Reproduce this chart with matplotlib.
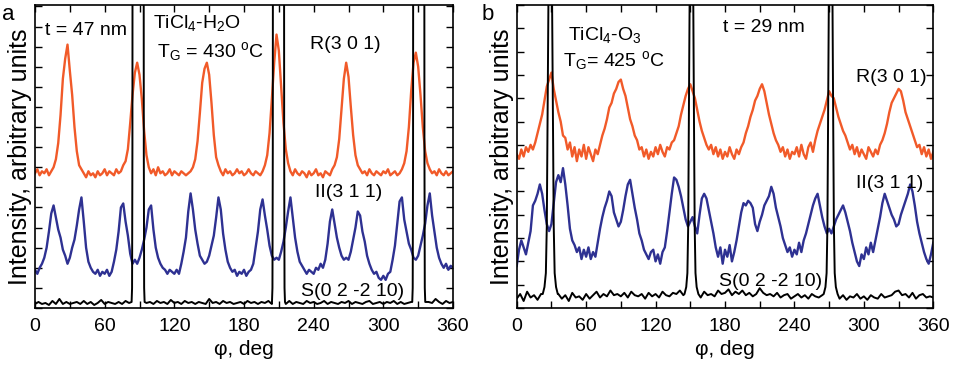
import numpy as np
import matplotlib
matplotlib.use("Agg")
import matplotlib.pyplot as plt
from matplotlib.ticker import MultipleLocator

plt.rcParams["font.family"] = ["Liberation Sans", "DejaVu Sans"]
plt.rcParams["mathtext.fontset"] = "custom"
plt.rcParams["mathtext.rm"] = "Liberation Sans"
plt.rcParams["mathtext.it"] = "Liberation Sans:italic"

ORANGE = "#f15a29"
BLUE = "#2e3192"

# phi grid for the orange / blue scans (2 deg step)
phi = np.arange(0, 361, 2)

# ---- panel a: TiCl4-H2O ----
r301_a = [
    6.7, 6.9, 6.6, 6.8, 6.7, 6.9, 6.6, 6.8, 7.0, 7.4,
    8.2, 9.6, 11.4, 12.4, 13.1, 11.8, 10.6, 9.0, 7.8, 7.1,
    6.9, 6.7, 6.5, 6.8, 6.6, 6.7, 6.5, 6.8, 6.6, 6.7,
    6.9, 6.6, 6.8, 6.7, 6.6, 6.9, 6.7, 6.8, 7.1, 7.3,
    7.9, 9.2, 10.6, 11.7, 12.2, 11.6, 10.4, 8.8, 7.6, 7.0,
    6.7, 6.9, 6.6, 7.0, 6.7, 6.8, 6.6, 6.7, 6.9, 6.6,
    6.8, 6.7, 6.6, 6.8, 6.7, 6.6, 6.7, 6.8, 7.0, 7.4,
    8.3, 9.7, 11.2, 11.9, 12.2, 11.6, 10.2, 8.6, 7.5, 7.1,
    6.8, 6.6, 6.9, 6.7, 6.8, 6.6, 6.7, 6.9, 6.7, 6.8,
    6.6, 6.7, 6.9, 6.7, 6.6, 6.8, 6.7, 6.6, 6.8, 7.1,
    7.6, 8.7, 10.4, 12.2, 13.6, 12.8, 11.0, 9.2, 7.9, 7.2,
    6.8, 6.6, 6.9, 6.7, 6.6, 6.8, 6.7, 6.5, 6.8, 6.6,
    6.7, 6.9, 6.6, 6.7, 6.5, 6.8, 6.7, 6.6, 6.9, 7.1,
    7.5, 8.4, 9.9, 11.4, 12.2, 11.5, 10.0, 8.6, 7.6, 7.1,
    6.9, 6.7, 6.8, 6.6, 6.9, 6.7, 6.6, 6.8, 6.7, 6.6,
    6.8, 6.7, 6.9, 6.6, 6.7, 6.8, 6.6, 6.7, 6.9, 7.2,
    7.8, 9.0, 10.8, 12.2, 12.7, 12.0, 10.6, 9.0, 7.8, 7.2,
    6.9, 6.7, 6.8, 6.6, 6.9, 6.7, 6.6, 6.8, 6.6, 6.7,
    6.8,
]
ii311_a = [
    1.9, 1.7, 2.0, 2.2, 2.5, 3.0, 3.8, 4.7, 5.1, 4.5,
    3.9, 3.5, 2.9, 2.6, 2.2, 2.5, 3.0, 3.4, 4.1, 4.9,
    5.5, 4.3, 3.0, 2.3, 2.0, 1.8, 1.7, 1.9, 1.6, 1.8,
    1.7, 1.9, 1.6, 1.8, 2.3, 2.9, 3.8, 5.0, 5.2, 4.3,
    3.6, 2.7, 2.2, 2.4, 2.2, 2.5, 2.9, 3.4, 4.0, 4.9,
    5.1, 3.9, 3.0, 2.5, 2.2, 2.0, 1.9, 1.7, 1.9, 1.8,
    1.7, 1.9, 1.7, 2.2, 2.8, 3.5, 4.8, 5.7, 4.9, 3.9,
    3.2, 2.6, 2.4, 2.2, 2.3, 2.6, 3.1, 3.6, 4.5, 5.5,
    4.9, 3.7, 2.9, 2.3, 2.0, 1.8, 1.9, 1.6, 1.8, 1.7,
    1.9, 1.6, 1.8, 1.9, 2.2, 3.0, 3.8, 4.9, 5.4, 4.6,
    3.9, 3.1, 2.6, 2.4, 2.5, 2.4, 2.8, 3.3, 4.0, 4.8,
    5.5, 4.5, 3.5, 2.8, 2.3, 2.1, 1.9, 1.7, 1.9, 1.8,
    1.7, 2.0, 1.9, 2.2, 2.0, 2.4, 3.2, 4.3, 4.9, 4.2,
    3.5, 3.0, 2.6, 2.4, 2.5, 2.4, 2.8, 3.4, 4.0, 4.8,
    4.6, 3.8, 3.3, 2.6, 2.2, 1.9, 1.7, 1.8, 1.5, 1.4,
    1.6, 1.4, 1.7, 1.8, 2.4, 3.1, 4.2, 5.3, 5.5, 4.4,
    3.8, 3.2, 2.9, 2.5, 2.4, 2.6, 3.1, 3.6, 4.2, 5.1,
    5.7, 4.6, 3.8, 3.0, 2.5, 2.2, 2.0, 2.2, 1.9, 2.1,
    2.0,
]
# S(0 2 -2 10) baseline on a 3 deg grid, plus the off-scale substrate peaks
phi_s = np.arange(0, 361, 3)
s_base_a = [
    0.2, 0.3, 0.2, 0.25, 0.15, 0.35, 0.2, 0.45, 0.2, 0.3,
    0.2, 0.25, 0.3, 0.2, 0.35, 0.2, 0.3, 0.15, 0.25, 0.4,
    0.2, 0.3, 0.25, 0.2, 0.3, 0.2, 0.35, 0.25, 0.2, 0.3,
    0.3, 0.2, 0.25, 0.3, 0.2, 0.35, 0.25, 0.3, 0.2, 0.4,
    0.25, 0.3, 0.2, 0.35, 0.25, 0.3, 0.2, 0.3, 0.25, 0.2,
    0.45, 0.25, 0.3, 0.2, 0.35, 0.25, 0.3, 0.2, 0.25, 0.3,
    0.2, 0.35, 0.25, 0.3, 0.2, 0.3, 0.25, 0.35, 0.2, 0.3,
    0.3, 0.25, 0.2, 0.35, 0.2, 0.3, 0.25, 0.2, 0.35, 0.25,
    0.3, 0.2, 0.25, 0.35, 0.2, 0.3, 0.25, 0.2, 0.3, 0.25,
    0.35, 0.2, 0.3, 0.25, 0.2, 0.3, 0.35, 0.2, 0.25, 0.3,
    0.2, 0.3, 0.25, 0.35, 0.2, 0.3, 0.2, 0.25, 0.3, 0.2,
    0.3, 0.25, 0.2, 0.3, 0.25, 0.45, 0.3, 0.2, 0.35, 0.25,
    0.3,
]
s_peak_phi_a = [
    83.2, 83.6, 83.9, 84.2, 88.8, 93.4, 93.7, 94.0, 94.4,
    204.1, 204.5, 204.8, 205.1, 209.7, 214.3, 214.6, 214.9, 215.3,
    324.9, 325.3, 325.6, 325.9, 330.5, 335.1, 335.4, 335.7, 336.1,
]
s_peak_val_a = [
    0.3, 1.0, 8.0, 40.0, 80.0, 40.0, 8.0, 1.0, 0.3,
    0.3, 1.0, 8.0, 40.0, 80.0, 40.0, 8.0, 1.0, 0.3,
    0.3, 1.0, 8.0, 40.0, 80.0, 40.0, 8.0, 1.0, 0.3,
]

# ---- panel b: TiCl4-O3 ----
r301_b = [
    6.6, 6.4, 6.8, 6.5, 6.9, 6.7, 7.0, 6.8, 7.1, 7.5,
    7.9, 8.3, 8.9, 9.5, 9.8, 10.1, 9.4, 8.9, 8.4, 8.0,
    7.4, 7.3, 6.8, 7.1, 6.5, 6.9, 6.3, 6.8, 6.5, 7.0,
    6.4, 6.9, 6.6, 6.3, 6.8, 6.6, 7.0, 7.4, 7.7, 8.1,
    8.6, 8.8, 9.2, 9.4, 9.7, 9.8, 9.4, 9.1, 8.6, 8.1,
    7.8, 7.4, 7.2, 6.8, 6.9, 6.5, 6.8, 6.4, 6.7, 6.5,
    6.9, 6.6, 7.0, 6.7, 6.5, 6.9, 6.8, 7.1, 7.2, 7.5,
    7.8, 8.3, 8.7, 9.1, 9.4, 9.6, 9.3, 9.0, 8.5, 8.0,
    7.6, 7.3, 7.0, 6.8, 7.0, 6.6, 6.9, 6.5, 6.8, 6.4,
    6.7, 6.5, 6.9, 6.6, 6.4, 6.8, 6.6, 6.9, 7.1, 7.5,
    7.8, 8.2, 8.5, 8.9, 9.1, 9.4, 9.6, 9.3, 8.8, 8.3,
    7.9, 7.5, 7.2, 7.0, 6.7, 6.9, 6.5, 6.8, 6.4, 6.7,
    6.6, 6.9, 6.5, 7.0, 6.6, 6.4, 6.9, 7.1, 6.7, 7.2,
    7.6, 7.9, 8.2, 8.5, 8.9, 9.3, 9.1, 9.0, 8.6, 8.2,
    7.9, 7.6, 7.4, 7.1, 6.8, 7.0, 6.6, 6.9, 6.5, 6.8,
    6.6, 6.4, 6.9, 6.7, 6.5, 6.8, 6.6, 7.0, 7.2, 7.5,
    7.9, 8.4, 8.8, 9.0, 9.2, 9.4, 9.3, 8.9, 8.4, 8.1,
    7.8, 7.5, 7.2, 6.9, 7.0, 6.6, 6.9, 6.5, 6.8, 6.4,
    6.7,
]
ii311_b = [
    1.8, 2.5, 2.9, 2.6, 2.3, 2.8, 3.3, 4.4, 4.6, 4.9,
    5.3, 4.9, 4.2, 3.6, 3.3, 3.6, 4.5, 5.4, 5.7, 5.4,
    6.0, 5.3, 4.4, 3.4, 2.9, 2.7, 2.4, 2.6, 2.1, 2.5,
    2.2, 2.6, 2.1, 2.4, 2.2, 2.8, 3.4, 3.9, 4.3, 4.6,
    5.0, 4.8, 4.1, 3.8, 3.5, 3.7, 4.2, 4.8, 5.3, 5.5,
    4.9, 4.3, 3.8, 3.2, 2.9, 2.5, 2.3, 2.1, 2.4, 2.5,
    2.0, 2.3, 1.9, 2.4, 2.6, 3.3, 4.1, 4.9, 5.6, 5.5,
    5.2, 4.8, 4.3, 3.8, 3.5, 3.7, 3.9, 3.5, 3.2, 4.0,
    4.7, 4.9, 4.7, 4.2, 3.7, 3.2, 2.6, 2.2, 2.6, 1.9,
    2.5, 2.2, 2.7, 2.0, 2.4, 2.9, 3.5, 4.1, 4.5, 4.4,
    4.6, 4.5, 4.3, 3.6, 3.3, 3.7, 4.0, 4.4, 4.6, 4.8,
    5.2, 4.9, 4.3, 3.9, 3.5, 3.0, 2.7, 2.4, 2.6, 2.2,
    2.5, 2.3, 2.8, 2.4, 2.9, 3.2, 3.6, 4.0, 4.4, 4.7,
    4.9, 4.4, 3.9, 3.5, 3.2, 3.4, 3.2, 3.5, 3.8, 4.0,
    4.2, 4.4, 4.1, 3.7, 3.3, 2.8, 2.4, 2.0, 1.8, 2.3,
    2.1, 2.6, 2.3, 2.8, 2.4, 2.9, 3.4, 3.9, 4.5, 4.9,
    4.6, 4.3, 4.0, 3.8, 3.5, 3.6, 4.0, 4.3, 4.6, 4.9,
    5.3, 5.0, 4.4, 3.7, 3.2, 2.8, 2.4, 2.1, 1.9, 2.3,
    2.8,
]
s_base_b = [
    0.4, 0.6, 0.3, 0.7, 0.45, 0.55, 0.35, 0.6, 0.5, 0.4,
    0.5, 0.35, 0.6, 0.4, 0.55, 0.3, 0.65, 0.45, 0.5, 0.35,
    0.6, 0.4, 0.55, 0.7, 0.45, 0.6, 0.5, 0.75, 0.55, 0.6,
    0.5, 0.65, 0.45, 0.7, 0.55, 0.5, 0.6, 0.4, 0.65, 0.5,
    0.6, 0.45, 0.7, 0.55, 0.5, 0.65, 0.6, 0.75, 0.55, 0.6,
    0.6, 0.5, 0.65, 0.45, 0.7, 0.55, 0.6, 0.5, 0.75, 0.6,
    0.65, 0.8, 0.55, 0.7, 0.6, 0.75, 0.55, 0.65, 0.5, 0.6,
    0.85, 0.65, 0.55, 0.6, 0.5, 0.65, 0.45, 0.55, 0.6, 0.4,
    0.5, 0.6, 0.45, 0.55, 0.4, 0.6, 0.5, 0.45, 0.55, 0.5,
    0.5, 0.45, 0.6, 0.4, 0.55, 0.35, 0.5, 0.45, 0.6, 0.4,
    0.5, 0.35, 0.55, 0.45, 0.4, 0.6, 0.45, 0.5, 0.55, 0.7,
    0.75, 0.55, 0.6, 0.45, 0.65, 0.4, 0.55, 0.6, 0.45, 0.5,
    0.45,
]
s_peak_phi_b = [
    22.5, 24.0, 25.2, 26.0, 26.7, 27.4, 28.2, 29.0, 29.8, 30.6, 31.3, 32.0, 32.8, 34.0, 35.5,
    145.0, 146.5, 147.5, 148.2, 148.8, 149.4, 150.2, 151.0, 151.8, 152.6, 153.2, 153.8, 154.5, 155.5, 157.0,
    265.3, 266.8, 267.8, 268.5, 269.1, 269.7, 270.5, 271.3, 272.1, 272.9, 273.5, 274.1, 274.8, 275.8, 277.3,
]
s_peak_val_b = [
    0.6, 0.9, 1.5, 3.5, 8.0, 13.0, 20.0, 30.0, 20.0, 13.0, 8.0, 3.5, 1.5, 0.9, 0.6,
    0.6, 0.9, 1.5, 3.5, 8.0, 13.0, 20.0, 30.0, 20.0, 13.0, 8.0, 3.5, 1.5, 0.9, 0.6,
    0.6, 0.9, 1.5, 3.5, 8.0, 13.0, 20.0, 30.0, 20.0, 13.0, 8.0, 3.5, 1.5, 0.9, 0.6,
]


def substrate_curve(base_vals, peak_phi, peak_val):
    """Merge the flat baseline scan with the points measured on the peaks."""
    base_vals = np.asarray(base_vals, dtype=float)
    peak_phi = np.asarray(peak_phi, dtype=float)
    n = len(peak_phi) // 3
    keep = np.ones(len(phi_s), dtype=bool)
    for i in range(0, len(peak_phi), n):
        lo, hi = peak_phi[i], peak_phi[i + n - 1]
        keep &= (phi_s < lo) | (phi_s > hi)
    x = np.concatenate([phi_s[keep], peak_phi])
    y = np.concatenate([base_vals[keep], peak_val])
    order = np.argsort(x)
    return x[order], y[order]


fig = plt.figure(figsize=(9.56, 3.66), dpi=100)
W, H = 956.0, 366.0
ax_a = fig.add_axes([35 / W, 1 - 308 / H, 418 / W, 303 / H])
ax_b = fig.add_axes([516.7 / W, 1 - 308 / H, 416.6 / W, 303 / H])

FS = 14


def style_axes(ax, ytop):
    ax.set_xlim(0, 360)
    ax.set_ylim(0, ytop)
    ax.xaxis.set_major_locator(MultipleLocator(60))
    ax.xaxis.set_minor_locator(MultipleLocator(30))
    ax.yaxis.set_major_locator(MultipleLocator(1))
    ax.tick_params(which="both", direction="in", top=True, right=True,
                   length=5, width=1, labelsize=FS, pad=7)
    ax.tick_params(axis="y", labelleft=False)
    for sp in ax.spines.values():
        sp.set_linewidth(1.2)
    ax.set_xlabel("φ, deg", fontsize=15, labelpad=4)
    ax.set_ylabel("Intensity, arbitrary units", fontsize=18, labelpad=2)


# panel a
sx, sy = substrate_curve(s_base_a, s_peak_phi_a, s_peak_val_a)
ax_a.plot(phi, r301_a, color=ORANGE, lw=1.7)
ax_a.plot(phi, ii311_a, color=BLUE, lw=1.7)
ax_a.plot(sx, sy, color="black", lw=1.4)
style_axes(ax_a, 15.07)
ax_a.text(0.024, 0.917, "t = 47 nm", transform=ax_a.transAxes, fontsize=FS, va="center")
ax_a.text(0.282, 0.94, "TiCl$_4$-H$_2$O", transform=ax_a.transAxes, fontsize=FS, va="center")
ax_a.text(0.292, 0.845, "T$_{\\rm G}$ = 430 $^{\\rm o}$C", transform=ax_a.transAxes, fontsize=FS, va="center")
ax_a.text(0.658, 0.868, "R(3 0 1)", transform=ax_a.transAxes, fontsize=FS, va="center")
ax_a.text(0.67, 0.38, "II(3 1 1)", transform=ax_a.transAxes, fontsize=FS, va="center")
ax_a.text(0.636, 0.053, "S(0 2 -2 10)", transform=ax_a.transAxes, fontsize=FS, va="center")

# panel b
sx, sy = substrate_curve(s_base_b, s_peak_phi_b, s_peak_val_b)
ax_b.plot(phi, r301_b, color=ORANGE, lw=1.7)
ax_b.plot(phi, ii311_b, color=BLUE, lw=1.7)
ax_b.plot(sx, sy, color="black", lw=1.4)
style_axes(ax_b, 13.0)
ax_b.text(0.123, 0.90, "TiCl$_4$-O$_3$", transform=ax_b.transAxes, fontsize=FS, va="center")
ax_b.text(0.111, 0.818, "T$_{\\rm G}$= 425 $^{\\rm o}$C", transform=ax_b.transAxes, fontsize=FS, va="center")
ax_b.text(0.495, 0.927, "t = 29 nm", transform=ax_b.transAxes, fontsize=FS, va="center")
ax_b.text(0.815, 0.76, "R(3 0 1)", transform=ax_b.transAxes, fontsize=FS, va="center")
ax_b.text(0.815, 0.41, "II(3 1 1)", transform=ax_b.transAxes, fontsize=FS, va="center")
ax_b.text(0.485, 0.089, "S(0 2 -2 10)", transform=ax_b.transAxes, fontsize=FS, va="center")

fig.text(8 / W, 1 - 14 / H, "a", fontsize=16, va="center", ha="center")
fig.text(488 / W, 1 - 14 / H, "b", fontsize=16, va="center", ha="center")

fig.savefig("out.png", dpi=100)
